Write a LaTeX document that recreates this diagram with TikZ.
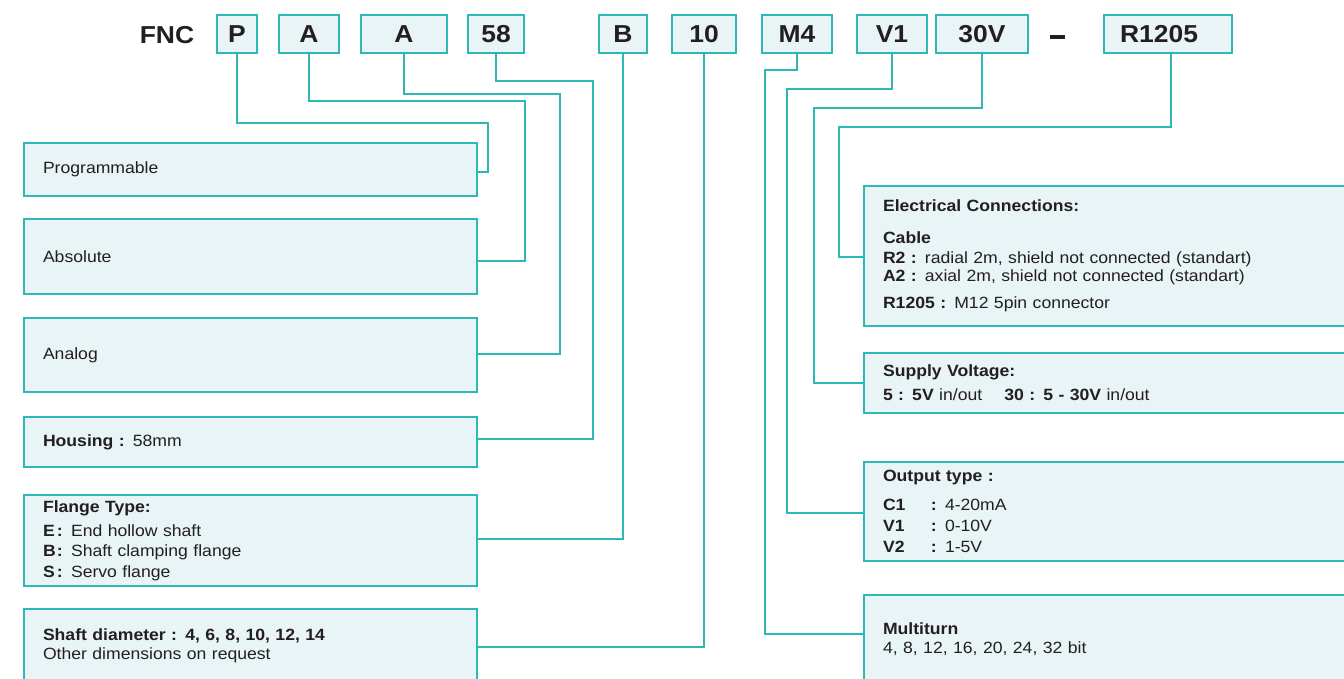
\documentclass[tikz,border=0pt]{standalone}
\usepackage{fontspec}
\setmainfont{Liberation Sans}[FakeStretch=1.08]
\definecolor{tealline}{HTML}{2DB8B6}
\definecolor{boxfill}{HTML}{E8F4F6}
\definecolor{ink}{HTML}{231F20}
\begin{document}
\begin{tikzpicture}[x=1pt,y=-1pt,
  font=\fontsize{16.3}{20}\selectfont, text=ink,
  codebox/.style={draw=tealline, fill=boxfill, line width=2pt, minimum height=38pt,
    inner sep=0pt, font=\fontsize{24.5}{28}\selectfont\bfseries},
  codetext/.style={inner sep=0pt, font=\fontsize{24.5}{28}\selectfont\bfseries},
  lbox/.style={draw=tealline, fill=boxfill, line width=2pt, anchor=north west,
    text width=415pt, inner xsep=19pt, inner ysep=0pt, align=left},
  rbox/.style={draw=tealline, fill=boxfill, line width=2pt, anchor=north west,
    text width=482pt, inner xsep=19pt, inner ysep=0pt, align=left},
  link/.style={draw=tealline, line width=2pt}
]
\useasboundingbox (0,0) rectangle (1344,678);
\clip (0,0) rectangle (1344,678);
\fill[white] (0,0) rectangle (1344,678);

% code line
\node[codetext] (fnc) at (167,35) {FNC};
\node[codebox, minimum width=40pt] (cP) at (237,34) {P};
\node[codebox, minimum width=60pt] (cA1) at (309,34) {A};
\node[codebox, minimum width=86pt] (cA2) at (404,34) {A};
\node[codebox, minimum width=56pt] (c58) at (496,34) {58};
\node[codebox, minimum width=48pt] (cB) at (623,34) {B};
\node[codebox, minimum width=64pt] (c10) at (704,34) {10};
\node[codebox, minimum width=70pt] (cM4) at (797,34) {M4};
\node[codebox, minimum width=70pt] (cV1) at (892,34) {V1};
\node[codebox, minimum width=92pt] (c30) at (982,34) {30V};
\node[codetext, anchor=center] (dash) at (1057.5,37) {\rule{14.5pt}{3.2pt}};
\node[codebox, minimum width=128pt] (cR) at (1168,34) {R1205\kern18pt};

% left boxes
\node[lbox, minimum height=53pt] (prog) at (23,142) {Programmable};
\node[lbox, minimum height=75pt] (abs) at (23,218) {Absolute};
\node[lbox, minimum height=74pt] (ana) at (23,317) {Analog};
\node[lbox, minimum height=50pt] (hous) at (23,416) {\textbf{Housing :} 58mm};
\node[lbox, minimum height=91pt] (flange) at (23,494) {\textbf{Flange Type:}\\[4pt]
  \makebox[14pt][l]{\textbf{E}}\textbf{:} End hollow shaft\\
  \makebox[14pt][l]{\textbf{B}}\textbf{:} Shaft clamping flange\\[1pt]
  \makebox[14pt][l]{\textbf{S}}\textbf{:} Servo flange};
\node[lbox, minimum height=74pt] (shaft) at (23,608) {\textbf{Shaft diameter : 4, 6, 8, 10, 12, 14}\\[-1pt]
  Other dimensions on request};

% right boxes
\node[rbox, minimum height=140pt] (elec) at (863,185) {\textbf{Electrical Connections:}\\[12pt]
  \textbf{Cable}\\
  \textbf{R2 :} radial 2m, shield not connected (standart)\\[-2pt]
  \textbf{A2 :} axial 2m, shield not connected (standart)\\[7pt]
  \textbf{R1205 :} M12 5pin connector};
\node[rbox, minimum height=60pt] (sup) at (863,352) {\textbf{Supply Voltage:}\\[4pt]
  \textbf{5 : 5V} in/out\hspace{22pt}\textbf{30 : 5 - 30V} in/out};
\node[rbox, minimum height=99pt] (out) at (863,461) {\textbf{Output type :}\\[9pt]
  \makebox[48pt][l]{\textbf{C1}}\textbf{:} 4-20mA\\[1pt]
  \makebox[48pt][l]{\textbf{V1}}\textbf{:} 0-10V\\[1pt]
  \makebox[48pt][l]{\textbf{V2}}\textbf{:} 1-5V};
\node[rbox, minimum height=88pt] (multi) at (863,594) {\textbf{Multiturn}\\[-1pt]
  4, 8, 12, 16, 20, 24, 32 bit};

% connectors
\draw[link] (cP.south) |- (488,123) |- (prog.east |- 0,172);
\draw[link] (cA1.south) |- (525,101) |- (abs.east |- 0,261);
\draw[link] (cA2.south) |- (560,94) |- (ana.east |- 0,354);
\draw[link] (c58.south) |- (593,81) |- (hous.east |- 0,439);
\draw[link] (cB.south) |- (flange.east |- 0,539);
\draw[link] (c10.south) |- (shaft.east |- 0,647);
\draw[link] (cM4.south) |- (765,70) |- (multi.west |- 0,634);
\draw[link] (cV1.south) |- (787,89) |- (out.west |- 0,513);
\draw[link] (c30.south) |- (814,108) |- (sup.west |- 0,383);
\draw[link] (cR.south -| 1171,0) |- (839,127) |- (elec.west |- 0,257);
\end{tikzpicture}
\end{document}
